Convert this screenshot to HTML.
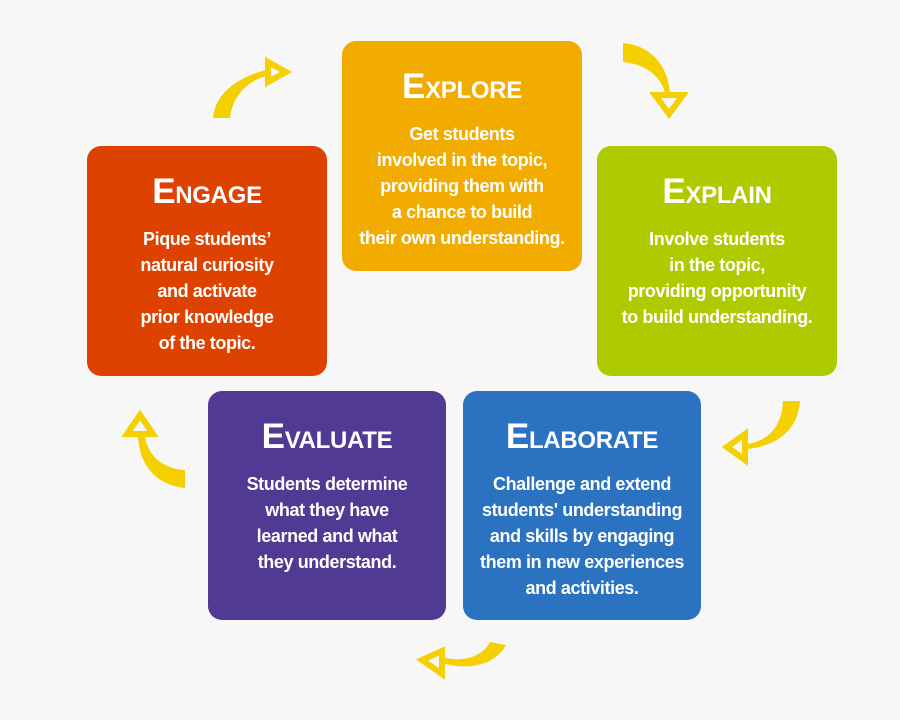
<!DOCTYPE html>
<html><head><style>
html,body{margin:0;padding:0;}
body{width:900px;height:720px;background:#f7f7f7;position:relative;overflow:hidden;font-family:"Liberation Sans",sans-serif;}
.b{position:absolute;width:240px;height:230px;border-radius:14px;color:#fff;text-align:center;box-sizing:border-box;}
.t{margin-top:26px;font-size:24px;font-weight:bold;line-height:40px;letter-spacing:-0.3px;}
.t span{font-size:35px;}
.p{margin-top:10px;font-size:18px;font-weight:bold;line-height:26px;letter-spacing:-0.4px;}
svg{position:absolute;left:0;top:0;}
</style></head><body>
<div class="b" style="left:342px;top:41px;background:#f2ac00"><div class="t"><span>E</span>XPLORE</div><div class="p">Get students<br>involved in the topic,<br>providing them with<br>a chance to build<br>their own understanding.</div></div>
<div class="b" style="left:87px;top:146px;background:#dd4200"><div class="t"><span>E</span>NGAGE</div><div class="p">Pique students’<br>natural curiosity<br>and activate<br>prior knowledge<br>of the topic.</div></div>
<div class="b" style="left:597px;top:146px;background:#aecb00"><div class="t"><span>E</span>XPLAIN</div><div class="p">Involve students<br>in the topic,<br>providing opportunity<br>to build understanding.</div></div>
<div class="b" style="left:208px;top:391px;width:238px;height:229px;background:#503a94"><div class="t"><span>E</span>VALUATE</div><div class="p">Students determine<br>what they have<br>learned and what<br>they understand.</div></div>
<div class="b" style="left:463px;top:391px;width:238px;height:229px;background:#2b72c0"><div class="t"><span>E</span>LABORATE</div><div class="p">Challenge and extend<br>students' understanding<br>and skills by engaging<br>them in new experiences<br>and activities.</div></div>
<svg width="900" height="720" fill="#f5d000" stroke="none">
<path d="M623,43 C650,45 668,65 670,93 L665,93 C661,76 645,64 623,62 Z"/>
<polygon points="655,95 683,95 669,114" fill="none" stroke="#f5d000" stroke-width="6"/>
<path d="M213,118 C215,95 235,78 266,70 L266,76 C243,83 232,100 230,118 Z"/>
<polygon points="268,62 268,82 286,72" fill="none" stroke="#f5d000" stroke-width="6"/>
<path d="M783,401 L800,401 C798,428 780,445 748,449 L748,444 C770,440 782,425 783,401 Z"/>
<polygon points="745,434 745,460 727,447" fill="none" stroke="#f5d000" stroke-width="6"/>
<path d="M490,642 L506,645 C495,665 470,670 445,664 L445,658 C465,662 483,656 490,642 Z"/>
<polygon points="442,651 442,674 422,660" fill="none" stroke="#f5d000" stroke-width="6"/>
<path d="M138,437 L145,437 C149,458 165,469 185,470 L185,488 C158,485 140,468 138,437 Z"/>
<polygon points="127,434 153,434 140,415" fill="none" stroke="#f5d000" stroke-width="6"/>
</svg>
</body></html>
